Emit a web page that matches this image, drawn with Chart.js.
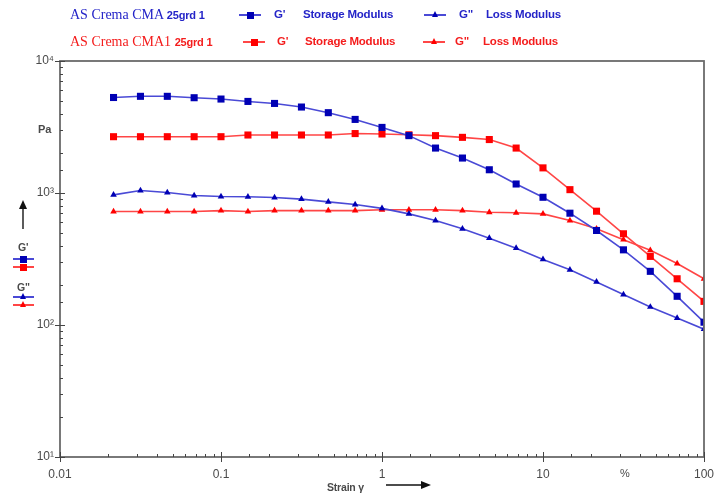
<!DOCTYPE html>
<html>
<head>
<meta charset="utf-8">
<script src="https://cdn.jsdelivr.net/npm/chart.js@4.4.1/dist/chart.umd.min.js"></script>
<style>
  body { margin: 0; background: #fff; }
  #wrap { position: relative; width: 715px; height: 497px; font-family: "Liberation Sans", Arial, sans-serif; }
  #wrap canvas { position: absolute; left: 0; top: 0; }
  .t { position: absolute; white-space: nowrap; transform: translateY(-50%); line-height: 1; }
  .serif { font-family: "Liberation Serif", "Times New Roman", serif; font-size: 14px; }
  .lab { font-family: "Liberation Sans", Arial, sans-serif; font-weight: bold; font-size: 11.5px; letter-spacing: -0.2px; }
  .gray { color: #4a4a4a; }
  .blue { color: #2424c8; }
  .red { color: #f41c1c; }
  .ln { position: absolute; height: 2px; }
  .sq { position: absolute; width: 7px; height: 7px; }
  .tri { position: absolute; width: 0; height: 0; border-left: 3.5px solid transparent; border-right: 3.5px solid transparent; border-bottom: 6px solid; }
</style>
</head>
<body>
<div id="wrap">
  <canvas id="chart" width="715" height="497"></canvas>

  <span class="t serif blue" style="left:70px;top:15px">AS Crema CMA <span class="lab" style="font-size:11px">25grd 1</span></span>
  <span class="t lab blue" style="left:274px;top:15px">G'</span>
  <span class="t lab blue" style="left:303px;top:15px">Storage Modulus</span>
  <span class="t lab blue" style="left:459px;top:15px">G"</span>
  <span class="t lab blue" style="left:486px;top:15px">Loss Modulus</span>

  <span class="t serif red" style="left:70px;top:42px">AS Crema CMA1 <span class="lab" style="font-size:11px">25grd 1</span></span>
  <span class="t lab red" style="left:277px;top:42px">G'</span>
  <span class="t lab red" style="left:305px;top:42px">Storage Modulus</span>
  <span class="t lab red" style="left:455px;top:42px">G"</span>
  <span class="t lab red" style="left:483px;top:42px">Loss Modulus</span>

  <span class="t lab gray" style="left:38px;top:129px;font-size:11px">Pa</span>
  <span class="t lab gray" style="left:18px;top:247px;font-size:10.5px">G'</span>
  <span class="t lab gray" style="left:17px;top:287px;font-size:10.5px">G"</span>
  <span class="t gray" style="left:620px;top:473px;font-size:11px">%</span>
  <span class="t lab gray" style="left:327px;top:487px;font-size:10.5px">Strain &gamma;</span>

  <svg style="position:absolute;left:16px;top:200px" width="14" height="30">
    <line x1="7" y1="29" x2="7" y2="6" stroke="#333" stroke-width="1.6"/>
    <polygon points="7,0 3,9 11,9" fill="#111"/>
  </svg>
  <svg style="position:absolute;left:386px;top:479px" width="46" height="12">
    <line x1="0" y1="6" x2="36" y2="6" stroke="#111" stroke-width="1.4"/>
    <polygon points="45,6 35,2 35,10" fill="#111"/>
  </svg>
</div>

<script>
// strain values (%), shared by all four series
const strain = [0.0215, 0.0316, 0.0464, 0.0681, 0.1, 0.147, 0.215, 0.316, 0.464, 0.681,
                1, 1.47, 2.15, 3.16, 4.64, 6.81, 10, 14.7, 21.5, 31.6, 46.4, 68.1, 100];

// AS Crema CMA 25grd 1
const cmaStorage = [5290, 5400, 5400, 5270, 5150, 4940, 4770, 4480, 4060, 3610,
                    3140, 2720, 2190, 1840, 1500, 1170, 928, 703, 520, 371, 255, 165, 105];
const cmaLoss = [968, 1044, 1008, 957, 940, 936, 924, 898, 857, 818,
                 765, 695, 619, 536, 455, 382, 314, 262, 212, 170, 137, 113, 93];

// AS Crema CMA1 25grd 1
const cma1Storage = [2670, 2670, 2670, 2670, 2670, 2750, 2750, 2750, 2750, 2820,
                     2800, 2760, 2720, 2640, 2540, 2190, 1550, 1060, 728, 491, 331, 224, 151];
const cma1Loss = [724, 724, 724, 724, 735, 724, 735, 735, 735, 735,
                  746, 746, 746, 735, 715, 708, 695, 619, 536, 443, 368, 292, 224];

const xTickLabels = ['0.01', '0.1', '1', '10', '100'];
const yTickLabels = ['10\u00b9', '10\u00b2', '10\u00b3', '10\u2074'];

const BLUE_LINE = '#4a4ad6', BLUE_MARK = '#0000b4';
const RED_LINE = '#ff4646', RED_MARK = '#ff0000';

// legend symbols (html, not chart marks)
const wrap = document.getElementById('wrap');
function legendSym(x, y, w, lineColor, markColor, shape) {
  const ln = document.createElement('div');
  ln.className = 'ln';
  ln.style.cssText = `left:${x}px;top:${y - 1}px;width:${w}px;background:${lineColor}`;
  wrap.appendChild(ln);
  const m = document.createElement('div');
  const cx = x + w / 2;
  if (shape === 'sq') {
    m.className = 'sq';
    m.style.cssText = `left:${cx - 3.5}px;top:${y - 3.5}px;background:${markColor}`;
  } else {
    m.className = 'tri';
    m.style.cssText = `left:${cx - 3.5}px;top:${y - 4}px;border-bottom-color:${markColor}`;
  }
  wrap.appendChild(m);
}
legendSym(239, 15, 22, BLUE_LINE, BLUE_MARK, 'sq');
legendSym(424, 15, 22, BLUE_LINE, BLUE_MARK, 'tri');
legendSym(243, 42, 22, RED_LINE, RED_MARK, 'sq');
legendSym(423, 42, 22, RED_LINE, RED_MARK, 'tri');
legendSym(13, 259, 21, BLUE_LINE, BLUE_MARK, 'sq');
legendSym(13, 267, 21, RED_LINE, RED_MARK, 'sq');
legendSym(13, 297, 21, BLUE_LINE, BLUE_MARK, 'tri');
legendSym(13, 305, 21, RED_LINE, RED_MARK, 'tri');

const decade = v => {
  const l = Math.log10(v);
  return Math.abs(l - Math.round(l)) < 1e-6 ? Math.round(l) : null;
};

function series(label, ys, lineColor, markColor, shape, r) {
  return {
    label,
    data: strain.map((x, i) => ({ x, y: ys[i] })),
    borderColor: lineColor,
    borderWidth: 1.6,
    backgroundColor: markColor,
    pointBackgroundColor: markColor,
    pointBorderColor: markColor,
    pointBorderWidth: 0,
    pointStyle: shape,
    pointRadius: r,
    tension: 0
  };
}

const frame = {
  id: 'frame',
  afterDraw(chart) {
    const { ctx, chartArea: a, scales } = chart;
    ctx.save();
    ctx.strokeStyle = '#6b6b6b';
    ctx.lineWidth = 1.8;
    ctx.strokeRect(a.left, a.top, a.right - a.left, a.bottom - a.top);
    ctx.strokeStyle = '#444';
    ctx.lineWidth = 1;
    scales.x.ticks.forEach(t => {
      const px = Math.round(scales.x.getPixelForValue(t.value)) + 0.5;
      const major = decade(t.value) !== null;
      ctx.beginPath();
      ctx.moveTo(px, a.bottom + (major ? 5 : 0));
      ctx.lineTo(px, a.bottom - (major ? 5 : 3));
      ctx.stroke();
    });
    scales.y.ticks.forEach(t => {
      const py = Math.round(scales.y.getPixelForValue(t.value)) + 0.5;
      const major = decade(t.value) !== null;
      ctx.beginPath();
      ctx.moveTo(a.left - (major ? 5 : 0), py);
      ctx.lineTo(a.left + (major ? 5 : 3), py);
      ctx.stroke();
    });
    ctx.restore();
  }
};

new Chart(document.getElementById('chart'), {
  type: 'line',
  data: {
    datasets: [
      series("CMA G'", cmaStorage, BLUE_LINE, BLUE_MARK, 'rect', 5),
      series('CMA G"', cmaLoss, BLUE_LINE, BLUE_MARK, 'triangle', 3.8),
      series("CMA1 G'", cma1Storage, RED_LINE, RED_MARK, 'rect', 5),
      series('CMA1 G"', cma1Loss, RED_LINE, RED_MARK, 'triangle', 3.8)
    ]
  },
  options: {
    responsive: false,
    animation: false,
    layout: { padding: { top: 61, right: 11, left: 0, bottom: 0 } },
    plugins: { legend: { display: false }, tooltip: { enabled: false } },
    scales: {
      x: {
        type: 'logarithmic',
        min: 0.01,
        max: 100,
        grid: { display: false, drawTicks: false },
        border: { display: false },
        afterFit: s => { s.height = 40; s.paddingLeft = 0; s.paddingRight = 0; },
        ticks: {
          autoSkip: false,
          maxRotation: 0,
          padding: 10,
          color: '#4a4a4a',
          font: { family: 'Liberation Sans', size: 12 },
          callback: v => {
            const d = decade(v);
            return d === null ? '' : xTickLabels[d + 2];
          }
        }
      },
      y: {
        type: 'logarithmic',
        min: 10,
        max: 10000,
        grid: { display: false, drawTicks: false },
        border: { display: false },
        afterFit: s => { s.width = 60; s.paddingTop = 0; s.paddingBottom = 0; },
        ticks: {
          autoSkip: false,
          padding: 6,
          color: '#4a4a4a',
          font: { family: 'Liberation Sans', size: 12 },
          callback: v => {
            const d = decade(v);
            return d === null ? '' : yTickLabels[d - 1];
          }
        }
      }
    }
  },
  plugins: [frame]
});
</script>
</body>
</html>
